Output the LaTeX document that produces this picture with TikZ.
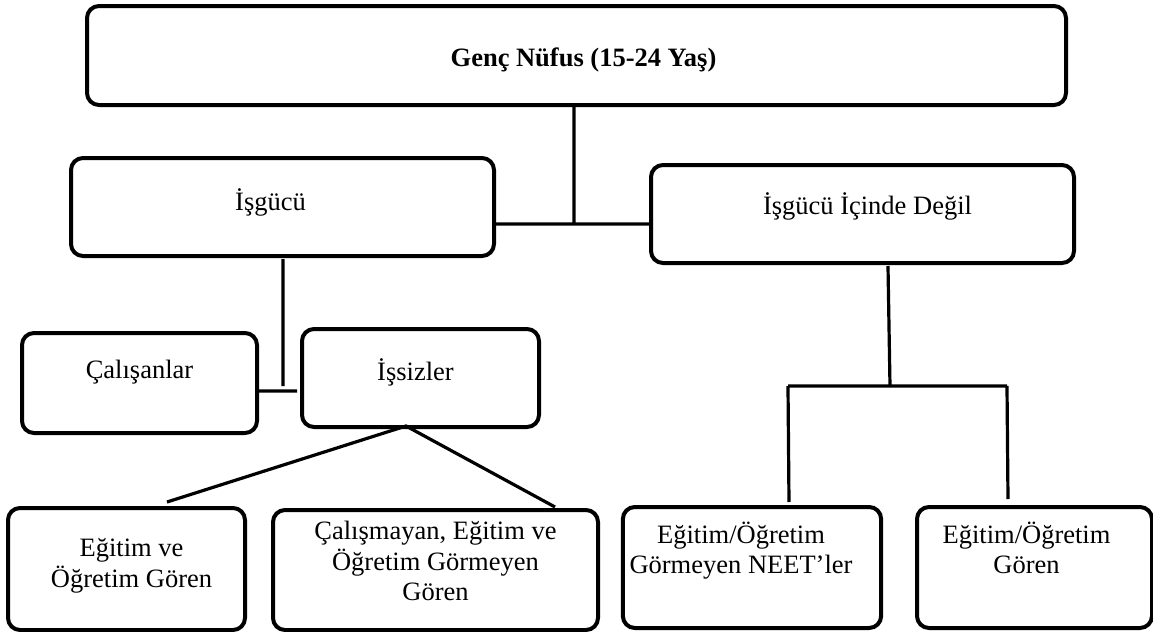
\documentclass[tikz,border=0pt]{standalone}
\usepackage{fontspec}
\setmainfont{Liberation Serif}
\usetikzlibrary{positioning}
\tikzset{
kutu/.style={draw, line width=2pt, rounded corners=6pt, align=center, font=\fontsize{13.25}{15}\selectfont}, % the boxes
cizgi/.style={line width=1.6pt}, % the plain connectors
}
\begin{document}
\begin{tikzpicture}[x=0.5pt, y=-0.5pt]
                \useasboundingbox (0,0) rectangle (1153,632);
                \node[kutu, minimum width=979*0.5pt, minimum height=99*0.5pt] (genc) at (576.5,55.5) {\hspace*{7pt}\raisebox{-2pt}[\height][\depth]{\textbf{Genç Nüfus (15-24 Yaş)}}};

                \node[kutu, minimum width=423*0.5pt, minimum height=98*0.5pt] (isgucu) at (282.5,207) {\raisebox{2.5pt}[\height][\depth]{İşgücü}\hspace*{12pt}};
                \node[kutu, minimum width=423*0.5pt, minimum height=98*0.5pt] (isgucu_disi) at (862.5,214) {\hspace*{5pt}\raisebox{4pt}[\height][\depth]{İşgücü İçinde Değil}};

                \node[kutu, minimum width=235*0.5pt, minimum height=100*0.5pt] (calisan) at (139.5,383) {\raisebox{5.5pt}[\height][\depth]{Çalışanlar}};
                \node[kutu, minimum width=237*0.5pt, minimum height=98*0.5pt] (issiz) at (420.5,378) {\raisebox{3pt}[\height][\depth]{İşsizler}\hspace*{5pt}};

                \node[kutu, minimum width=237*0.5pt, minimum height=122*0.5pt] (issiz_egitim) at (126.5,569) {\hspace*{5pt}\raisebox{1.5pt}[\height][\depth]{\begin{tabular}{@{}c@{}}Eğitim ve\\Öğretim Gören\end{tabular}}};
                \node[kutu, minimum width=325*0.5pt, minimum height=120*0.5pt] (issiz_neet) at (435.5,570) {\raisebox{3pt}[\height][\depth]{\begin{tabular}{@{}c@{}}Çalışmayan, Eğitim ve\\Öğretim Görmeyen\\Gören\end{tabular}}};
                \node[kutu, minimum width=238*0.5pt, minimum height=121*0.5pt] (neet) at (752,567.5) {\raisebox{7.75pt}[\height][\depth]{\begin{tabular}{@{}c@{}}Eğitim/Öğretim\\Görmeyen NEET’ler\end{tabular}}\hspace*{11pt}};
                \node[kutu, minimum width=235*0.5pt, minimum height=121*0.5pt] (egitim_goren) at (1034.5,567.5) {\raisebox{7.75pt}[\height][\depth]{\begin{tabular}{@{}c@{}}Eğitim/Öğretim\\Gören\end{tabular}}\hspace*{8pt}};

                \coordinate (j1) at (574,224);
                \coordinate (i1) at (283,259);
                \coordinate (i2) at (283,386);
                \coordinate (c1) at (297,391);
                \coordinate (f0) at (406,426);
                \coordinate (f1) at (167,502);
                \coordinate (f2) at (555,507);
                \coordinate (d1) at (888,266);
                \coordinate (d2) at (890,386);
                \coordinate (h1) at (788,386);
                \coordinate (h2) at (1007,386);
                \coordinate (n1) at (789,502);
                \coordinate (n2) at (1008,499);
                \draw[cizgi]
                    (genc.south -| j1) -- (j1)
                    (isgucu.east |- j1) -- (isgucu_disi.west |- j1)
                    %
                    (i1) -- (i2)
                    (calisan.east |- c1) -- (c1)
                    (f1) -- (f0) -- (f2)
                    %
                    (d1) -- (d2)
                    (h1) -- (h2)
                    (h1) -- (n1)
                    (h2) -- (n2)
                    ;
                \end{tikzpicture}
\end{document}
